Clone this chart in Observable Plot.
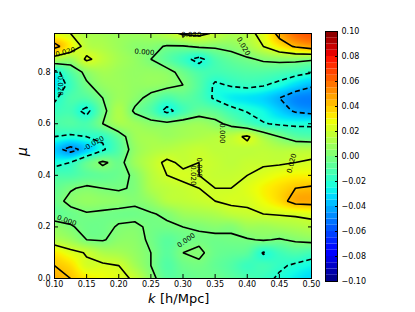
<!DOCTYPE html>
<html><head><meta charset="utf-8">
<script src="https://cdn.jsdelivr.net/npm/d3@7"></script>
<script src="https://cdn.jsdelivr.net/npm/@observablehq/plot@0.6"></script>
<style>
body{margin:0;background:#fff}
#wrap{position:relative;width:415px;height:312px;background:#fff}
#wrap svg{position:absolute;top:0}
</style>
</head><body><div id="wrap"></div>
<script>
// grid of k (columns) and mu (rows)
const kValues = [0.100,0.125,0.150,0.175,0.200,0.225,0.250,0.275,0.300,0.325,0.350,0.375,0.400,0.425,0.450,0.475,0.500];
const muValues = [0.00,0.05,0.10,0.15,0.20,0.25,0.30,0.35,0.40,0.45,0.50,0.55,0.60,0.65,0.70,0.75,0.80,0.85,0.90,0.95];
// rows listed from mu = 0.95 (top) down to mu = 0.00 (bottom)
const row095 = [0.025,0.02,0.012,0.01,0.008,0.008,0.01,0.015,0.022,0.024,0.018,0.012,0.015,0.025,0.045,0.06,0.065];
const row090 = [0.045,0.03,0.015,0.012,0.008,0.004,0.003,-0.001,-0.001,0.002,0.002,0.004,0.01,0.02,0.032,0.042,0.048];
const row085 = [0.012,0.008,0.022,0.016,0.01,0.006,0.0,-0.008,-0.016,-0.024,-0.012,-0.006,-0.002,0.002,0.004,0.004,0.002];
const row080 = [-0.025,-0.01,0.004,0.01,0.008,0.006,0.006,0.004,-0.004,-0.012,-0.014,-0.012,-0.01,-0.01,-0.012,-0.015,-0.019];
const row075 = [-0.03,-0.016,-0.002,0.006,0.008,0.006,0.006,0.004,0.0,-0.01,-0.022,-0.019,-0.017,-0.019,-0.024,-0.032,-0.038];
const row070 = [-0.022,-0.012,-0.01,0.0,0.008,0.004,-0.004,-0.012,-0.008,-0.012,-0.022,-0.028,-0.03,-0.033,-0.04,-0.048,-0.05];
const row065 = [-0.016,-0.014,-0.024,-0.004,0.012,-0.002,-0.01,-0.024,-0.014,-0.006,-0.008,-0.016,-0.021,-0.026,-0.034,-0.042,-0.045];
const row060 = [-0.012,-0.01,-0.012,0.0,0.01,0.008,0.004,0.003,0.006,0.008,0.004,-0.004,-0.012,-0.019,-0.022,-0.023,-0.023];
const row055 = [-0.02,-0.022,-0.02,-0.018,-0.006,0.008,0.01,0.008,0.01,0.012,0.014,0.016,0.022,0.01,0.0,-0.008,-0.01];
const row050 = [-0.035,-0.045,-0.035,-0.022,-0.01,0.006,0.012,0.014,0.016,0.018,0.016,0.016,0.016,0.016,0.014,0.014,0.014];
const row045 = [-0.024,-0.02,-0.006,0.002,-0.004,0.008,0.016,0.022,0.018,0.02,0.018,0.016,0.018,0.018,0.018,0.02,0.022];
const row040 = [-0.012,-0.012,-0.008,-0.006,-0.004,0.002,0.014,0.02,0.022,0.02,0.018,0.018,0.02,0.024,0.028,0.03,0.03];
const row035 = [-0.006,-0.001,0.002,0.0,-0.001,0.001,0.012,0.016,0.018,0.02,0.02,0.02,0.024,0.03,0.035,0.04,0.042];
const row030 = [-0.004,0.003,0.006,0.005,0.004,0.002,0.006,0.014,0.016,0.018,0.02,0.022,0.022,0.028,0.035,0.045,0.046];
const row025 = [-0.006,-0.004,-0.001,-0.002,-0.003,-0.003,-0.001,0.002,0.008,0.01,0.012,0.016,0.018,0.02,0.021,0.022,0.024];
const row020 = [0.005,0.001,-0.003,-0.003,0.001,0.002,-0.002,-0.002,0.0,0.001,0.003,0.002,0.008,0.008,0.01,0.012,0.014];
const row015 = [0.012,0.008,0.0,-0.001,0.004,0.004,-0.002,-0.008,-0.004,-0.002,-0.003,-0.002,-0.001,0.001,-0.001,0.002,0.004];
const row010 = [0.032,0.024,0.019,0.012,0.01,0.006,0.0,-0.008,0.0,0.002,-0.004,-0.006,-0.008,-0.021,-0.015,-0.011,-0.014];
const row005 = [0.04,0.035,0.022,0.022,0.02,0.01,0.0,-0.01,-0.004,-0.002,-0.006,-0.01,-0.016,-0.014,-0.018,-0.022,-0.026];
const row000 = [0.045,0.04,0.032,0.028,0.024,0.018,0.004,-0.008,-0.006,-0.004,-0.004,-0.008,-0.012,-0.016,-0.022,-0.028,-0.032];

const negativeLevels = [-0.04, -0.02];
const positiveLevels = [0, 0.02, 0.04];
const kTicks = [0.10,0.15,0.20,0.25,0.30,0.35,0.40,0.45,0.50];
const muTicks = [0.0,0.2,0.4,0.6,0.8];
const colorTicks = [-0.10,-0.08,-0.06,-0.04,-0.02,0.00,0.02,0.04,0.06,0.08,0.10];

// contour label annotations
const labelText = ["0.020","0.000","-0.020","-0.020","0.020","0.020","0.000","0.020","0.000","0.000","0.000","0.020"];
const labelK    = [0.117, 0.240, 0.109, 0.161, 0.313, 0.394, 0.361, 0.316, 0.326, 0.119, 0.305, 0.469];
const labelMu   = [0.878, 0.878, 0.753, 0.524, 0.944, 0.900, 0.563, 0.400, 0.430, 0.225, 0.148, 0.447];
const labelRot  = [-15, 5, 90, -30, 0, 60, 90, 90, 90, 20, -35, -75];

// ---- build
const rowsTopDown = [row095,row090,row085,row080,row075,row070,row065,row060,row055,row050,row045,row040,row035,row030,row025,row020,row015,row010,row005,row000];
const grid = rowsTopDown.slice().reverse(); // grid[j][i], j=0 -> mu=0
const nx = kValues.length, ny = muValues.length;
const dk = kValues[1] - kValues[0], dmu = muValues[1] - muValues[0];
const values = grid.flat();

function cr(p0, p1, p2, p3, t) {
  return 0.5 * (2*p1 + (-p0 + p2)*t + (2*p0 - 5*p1 + 4*p2 - p3)*t*t + (-p0 + 3*p1 - 3*p2 + p3)*t*t*t);
}
const ci = (i, n) => Math.max(0, Math.min(n - 1, i));
function field(k, mu) {
  const fx = Math.max(0, Math.min(nx - 1, (k - kValues[0]) / dk));
  const fy = Math.max(0, Math.min(ny - 1, (mu - muValues[0]) / dmu));
  const ix = Math.min(nx - 2, Math.floor(fx)), iy = Math.min(ny - 2, Math.floor(fy));
  const tx = fx - ix, ty = fy - iy;
  const r = [];
  for (let m = -1; m <= 2; m++) {
    const row = grid[ci(iy + m, ny)];
    r.push(cr(row[ci(ix-1,nx)], row[ci(ix,nx)], row[ci(ix+1,nx)], row[ci(ix+2,nx)], tx));
  }
  return cr(r[0], r[1], r[2], r[3], ty);
}

// matplotlib "jet"
const jetR = [[0,0],[0.35,0],[0.66,1],[0.89,1],[1,0.5]];
const jetG = [[0,0],[0.125,0],[0.375,1],[0.64,1],[0.91,0],[1,0]];
const jetB = [[0,0.5],[0.11,1],[0.34,1],[0.65,0],[1,0]];
function seg(s, t) {
  for (let i = 1; i < s.length; i++) if (t <= s[i][0]) {
    const [t0, v0] = s[i-1], [t1, v1] = s[i];
    return v0 + (v1 - v0) * (t - t0) / (t1 - t0);
  }
  return s[s.length-1][1];
}
const jet = t => {
  t = Math.max(0, Math.min(1, t));
  return `rgb(${Math.round(255*seg(jetR,t))},${Math.round(255*seg(jetG,t))},${Math.round(255*seg(jetB,t))})`;
};
const colorScale = {type: "linear", domain: [-0.1, 0.1], interpolate: jet};
const font = {fontFamily: "DejaVu Sans", fontSize: "8px", background: "transparent", color: "black", overflow: "visible"};

const gridBox = {width: nx, height: ny, x1: kValues[0] - dk/2, x2: kValues[nx-1] + dk/2, y1: muValues[0] - dmu/2, y2: muValues[ny-1] + dmu/2, value: Plot.identity};
const labels = labelText.map((t, i) => ({t, k: labelK[i], mu: labelMu[i], r: labelRot[i]}));

const main = Plot.plot({
  width: 415, height: 312,
  marginLeft: 54, marginRight: 104, marginTop: 33, marginBottom: 34,
  style: font,
  x: {domain: [0.1, 0.5]},
  y: {domain: [0, 0.95]},
  color: colorScale,
  marks: [
    Plot.raster({fill: (x, y) => field(x, y), x1: 0.1, x2: 0.5, y1: 0, y2: 0.95, pixelSize: 1}),
    Plot.contour(values, {...gridBox, thresholds: negativeLevels, fill: "none", stroke: "black", strokeWidth: 1.6, strokeDasharray: "5,3", clip: true}),
    Plot.contour(values, {...gridBox, thresholds: positiveLevels, fill: "none", stroke: "black", strokeWidth: 1.6, clip: true}),
    Plot.text(labels, {x: "k", y: "mu", text: "t", rotate: "r", fontSize: 7, fill: "black"}),
    Plot.frame({stroke: "black"}),
    Plot.axisX({ticks: kTicks, tickFormat: ".2f", tickSize: -4, tickPadding: 7, label: null}),
    Plot.axisX({anchor: "top", ticks: kTicks, tickFormat: () => "", tickSize: -4, label: null}),
    Plot.axisY({ticks: muTicks, tickFormat: ".1f", tickSize: -4, tickPadding: 8, label: null}),
    Plot.axisY({anchor: "right", ticks: muTicks, tickFormat: () => "", tickSize: -4, label: null}),
    Plot.text(["μ"], {frameAnchor: "left", dx: -32, rotate: -90, fontSize: 14, fontStyle: "italic"}),
    Plot.text(["k"], {frameAnchor: "bottom", dx: -35, dy: 24, textAnchor: "start", fontSize: 13, fontStyle: "italic"}),
    Plot.text(["[h/Mpc]"], {frameAnchor: "bottom", dx: -23, dy: 24, textAnchor: "start", fontSize: 13})
  ]
});
main.style.left = "0px";

const levelStep = 0.005;
const colorLevels = d3.range(-0.1, 0.1 - 1e-9, levelStep);
const bar = Plot.plot({
  width: 100, height: 312,
  marginLeft: 10, marginRight: 78, marginTop: 31, marginBottom: 31,
  style: font,
  x: {domain: [0, 1], axis: null},
  y: {domain: [-0.1, 0.1], axis: null},
  color: colorScale,
  marks: [
    Plot.rect(colorLevels, {x1: 0, x2: 1, y1: d => d, y2: d => d + levelStep, fill: d => d + levelStep/2}),
    Plot.frame({stroke: "black"}),
    Plot.axisY({anchor: "right", ticks: colorTicks, tickFormat: ".2f", tickSize: -3, tickPadding: 7, label: null})
  ]
});
bar.style.left = "315px";

const wrap = document.getElementById("wrap");
wrap.append(main, bar);
</script>
</body></html>
